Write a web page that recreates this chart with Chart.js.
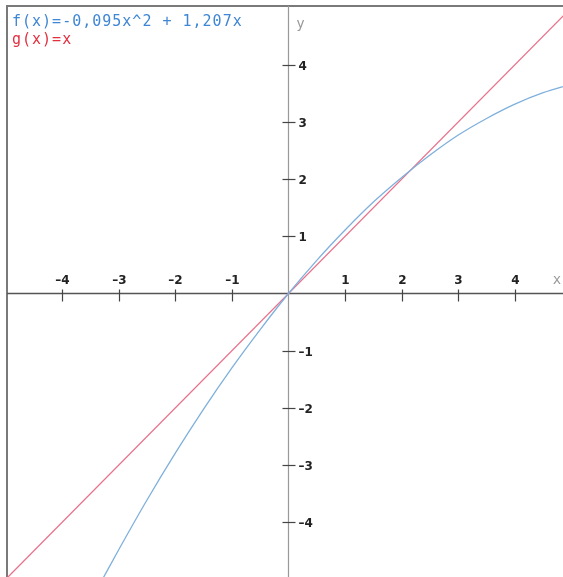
<!DOCTYPE html>
<html>
<head>
<meta charset="utf-8">
<script src="https://cdn.jsdelivr.net/npm/chart.js@4/dist/chart.umd.min.js"></script>
<style>
html,body{margin:0;padding:0;background:#fff;}
#wrap{width:563px;height:577px;position:relative;}
</style>
</head>
<body>
<div id="wrap"><canvas id="c" width="563" height="577"></canvas></div>
<script>
// values
const fX = [-3.3, -3.0, -2.5, -2.0, -1.5, -1.0, -0.5, 0, 0.5, 1.0, 1.5, 2.0, 2.5, 3.0, 3.5, 4.0, 4.5, 5.0];
const fY = [-5.02, -4.48, -3.61, -2.79, -2.02, -1.30, -0.63, 0, 0.58, 1.11, 1.60, 2.03, 2.42, 2.77, 3.06, 3.31, 3.51, 3.66];
const gX = [-5.2, 5.2];
const gY = [-5.2, 5.2];
const xTicks = [-4, -3, -2, -1, 1, 2, 3, 4];
const yTicks = [4, 3, 2, 1, -1, -2, -3, -4];
const legendLines = ['f(x)=-0,095x^2 + 1,207x', 'g(x)=x'];
const axisNames = ['x', 'y'];

const axesPlugin = {
  id: 'axesPlugin',
  beforeDatasetsDraw(chart) {
    const ctx = chart.ctx;
    const xs = chart.scales.x, ys = chart.scales.y;
    const ox = xs.getPixelForValue(0), oy = ys.getPixelForValue(0);
    ctx.save();
    // frame
    ctx.strokeStyle = '#7a7a7a';
    ctx.lineWidth = 2;
    ctx.beginPath();
    ctx.moveTo(7, 577); ctx.lineTo(7, 6); ctx.lineTo(563, 6);
    ctx.stroke();
    // x axis
    ctx.strokeStyle = '#555';
    ctx.lineWidth = 1.5;
    ctx.beginPath();
    ctx.moveTo(7, oy); ctx.lineTo(563, oy);
    ctx.stroke();
    // y axis
    ctx.strokeStyle = '#999';
    ctx.lineWidth = 1.2;
    ctx.beginPath();
    ctx.moveTo(ox, 6); ctx.lineTo(ox, 577);
    ctx.stroke();
    // ticks
    ctx.strokeStyle = '#444';
    ctx.lineWidth = 1.2;
    ctx.fillStyle = '#222';
    ctx.font = 'bold 12px "DejaVu Sans"';
    ctx.textAlign = 'center';
    ctx.textBaseline = 'alphabetic';
    xTicks.forEach(v => {
      const px = Math.round(xs.getPixelForValue(v)) + 0.5;
      ctx.beginPath(); ctx.moveTo(px, oy - 4); ctx.lineTo(px, oy + 8); ctx.stroke();
      ctx.fillText(String(v).replace('-', '\u2013'), px, oy - 10);
    });
    ctx.textAlign = 'left';
    ctx.textBaseline = 'middle';
    yTicks.forEach(v => {
      const py = Math.round(ys.getPixelForValue(v)) + 0.5;
      ctx.beginPath(); ctx.moveTo(ox - 6, py); ctx.lineTo(ox + 7, py); ctx.stroke();
      ctx.fillText(String(v).replace('-', '\u2013'), ox + 10, py + 1);
    });
    // axis names
    ctx.fillStyle = '#999';
    ctx.font = '14px "DejaVu Sans Mono"';
    ctx.textAlign = 'center';
    ctx.textBaseline = 'alphabetic';
    ctx.fillText(axisNames[0], 557, oy - 10);
    ctx.fillText(axisNames[1], ox + 12, 28);
    // legend
    ctx.textAlign = 'left';
    ctx.font = '15px "DejaVu Sans Mono"';
    try { ctx.letterSpacing = '1px'; } catch (e) {}
    ctx.fillStyle = '#3f86d4';
    ctx.fillText(legendLines[0], 12, 26);
    ctx.fillStyle = '#e3303f';
    ctx.fillText(legendLines[1], 12, 44);
    ctx.restore();
  }
};

new Chart(document.getElementById('c'), {
  type: 'scatter',
  data: {
    datasets: [
      {
        label: 'f',
        data: fX.map((x, i) => ({ x: x, y: fY[i] })),
        showLine: true,
        borderColor: '#7fb0dc',
        borderWidth: 1.3,
        pointRadius: 0,
        cubicInterpolationMode: 'monotone',
        fill: false
      },
      {
        label: 'g',
        data: gX.map((x, i) => ({ x: x, y: gY[i] })),
        showLine: true,
        borderColor: '#e8708a',
        borderWidth: 1.3,
        pointRadius: 0,
        fill: false
      }
    ]
  },
  options: {
    responsive: false,
    animation: false,
    devicePixelRatio: 1,
    layout: { padding: 0 },
    plugins: { legend: { display: false }, tooltip: { enabled: false } },
    scales: {
      x: { type: 'linear', display: false, min: -5.097, max: 4.85 },
      y: { type: 'linear', display: false, min: -4.956, max: 5.131 }
    }
  },
  plugins: [axesPlugin]
});
</script>
</body>
</html>
